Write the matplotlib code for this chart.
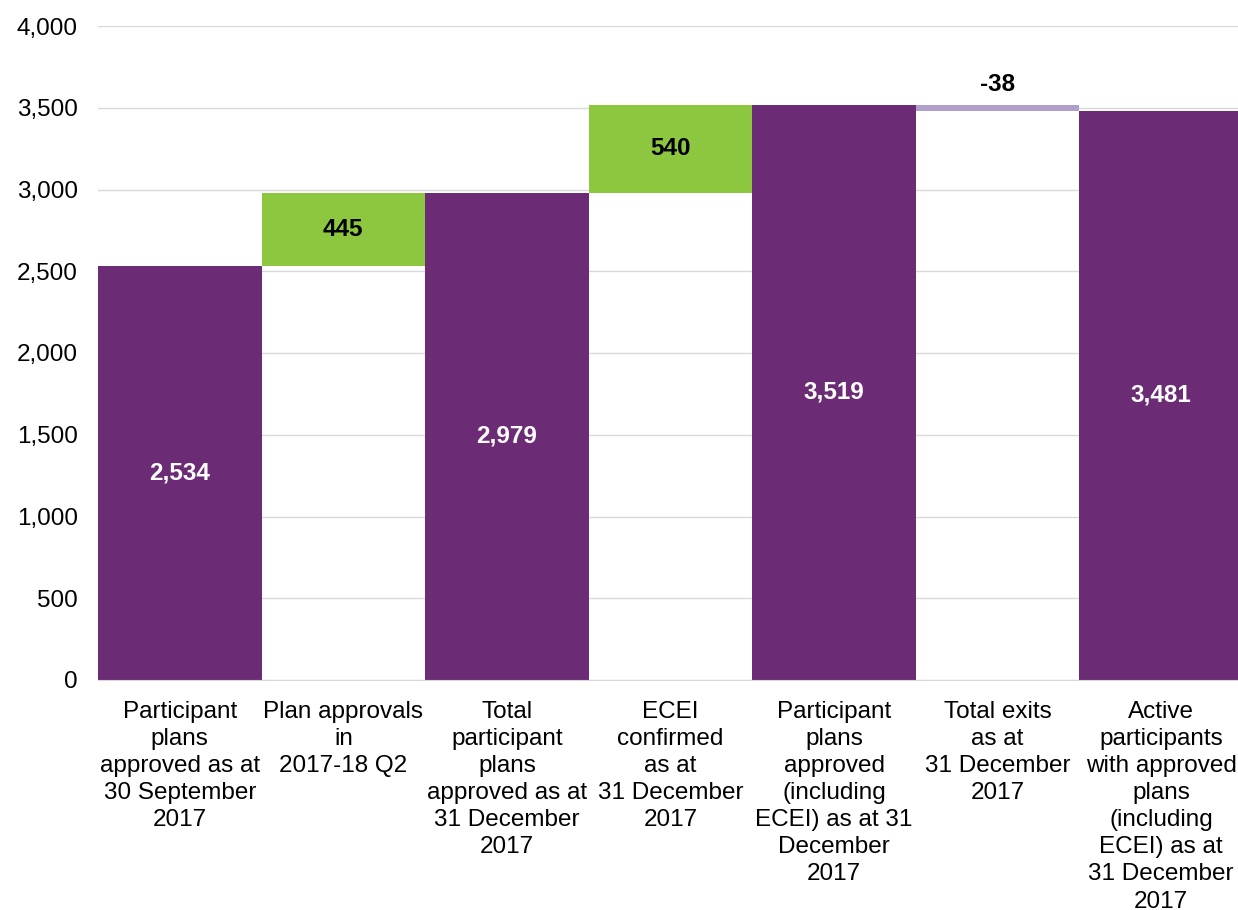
import matplotlib.pyplot as plt
from matplotlib.ticker import FuncFormatter

plt.rcParams['font.family'] = ['Liberation Sans', 'DejaVu Sans']

categories = [
    "Participant\nplans\napproved as at\n30 September\n2017",
    "Plan approvals\nin\n2017-18 Q2",
    "Total\nparticipant\nplans\napproved as at\n31 December\n2017",
    "ECEI\nconfirmed\nas at\n31 December\n2017",
    "Participant\nplans\napproved\n(including\nECEI) as at 31\nDecember\n2017",
    "Total exits\nas at\n31 December\n2017",
    "Active\nparticipants\nwith approved\nplans\n(including\nECEI) as at\n31 December\n2017",
]
values = [2534, 445, 2979, 540, 3519, -38, 3481]
is_total = [True, False, True, False, True, False, True]

purple = "#6B2C75"
green = "#8DC63F"
light_purple = "#B09FCA"
fs = 17.5

fig = plt.figure(figsize=(12.38, 9.10), dpi=100)
ax = fig.add_axes([98 / 1238, 1 - 680 / 910, 1145 / 1238, 654 / 910])

running = 0
for i, v in enumerate(values):
    if is_total[i]:
        bottom, height, col = 0, v, purple
        running = v
    elif v >= 0:
        bottom, height, col = running, v, green
        running += v
    else:
        bottom, height, col = running + v, -v, light_purple
        running += v
    ax.bar(i, height, bottom=bottom, width=1.0, color=col, zorder=2)
    label = f"{v:,}"
    if is_total[i]:
        ax.text(i, bottom + height / 2, label, ha="center", va="center",
                color="white", fontsize=fs, fontweight="bold", zorder=3)
    elif v >= 0:
        ax.text(i, bottom + height / 2, label, ha="center", va="center",
                color="black", fontsize=fs, fontweight="bold", zorder=3)
    else:
        ax.text(i, bottom + height + 125, label, ha="center", va="center",
                color="black", fontsize=fs, fontweight="bold", zorder=3)

ax.set_xlim(-0.5, 6.5)
ax.set_ylim(0, 4000)
ax.set_yticks(range(0, 4001, 500))
ax.yaxis.set_major_formatter(FuncFormatter(lambda x, p: f"{int(x):,}"))
ax.set_xticks(range(len(categories)))
ax.set_xticklabels(categories, fontsize=fs, va="top", ha="center", linespacing=1.3)
ax.tick_params(axis="both", length=0, labelsize=fs)
ax.tick_params(axis="x", pad=15)
ax.tick_params(axis="y", pad=14.5)
ax.grid(axis="y", color="#D9D9D9", linewidth=1, zorder=0)
for s in ["top", "right", "left"]:
    ax.spines[s].set_visible(False)
ax.spines["bottom"].set_color("#D9D9D9")

fig.savefig("out.png", dpi=100)
